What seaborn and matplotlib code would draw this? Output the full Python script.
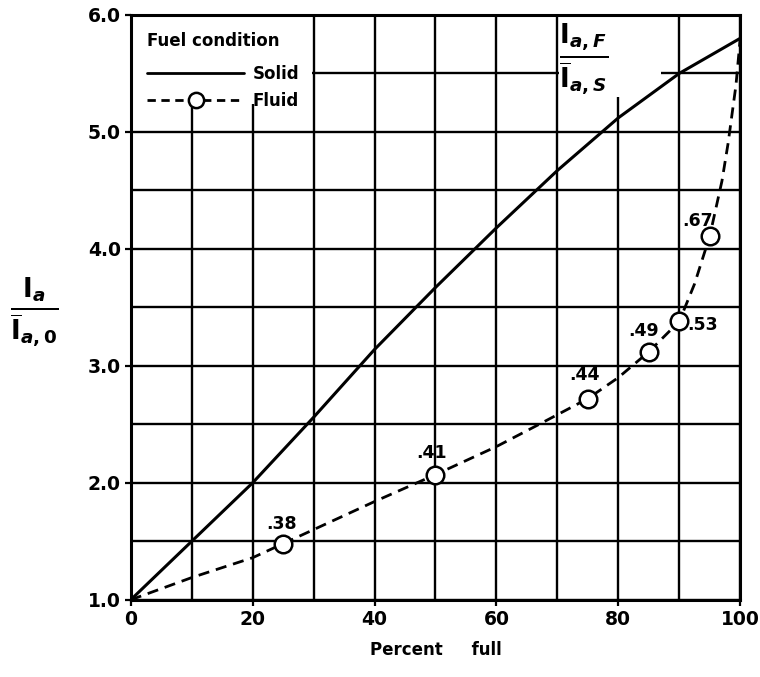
import matplotlib
matplotlib.use("Agg")
import matplotlib.pyplot as plt
from matplotlib.lines import Line2D
from matplotlib.patches import Rectangle
from matplotlib.legend_handler import HandlerLine2D
import numpy as np
import pandas as pd
import seaborn as sns

# solid fuel curve
SOLID_X = [0, 10, 20, 30, 40, 50, 60, 70, 80, 90, 100]
SOLID_Y = [1.0, 1.5, 2.0, 2.56, 3.14, 3.67, 4.18, 4.67, 5.12, 5.5, 5.8]

# fluid fuel curve (dashed)
FLUID_CURVE_X = [0, 10, 20, 25, 30, 40, 50, 60, 67, 75, 80, 85, 90, 92.5, 95, 97, 98, 99.3, 100]
FLUID_CURVE_Y = [1.0, 1.19, 1.36, 1.48, 1.6, 1.84, 2.07, 2.31, 2.5, 2.72, 2.9, 3.12, 3.38, 3.7, 4.11, 4.58, 4.9, 5.4, 5.8]

# measured fluid points and their ratio labels
FLUID_X = [25, 50, 75, 85, 90, 95]
FLUID_Y = [1.48, 2.07, 2.72, 3.12, 3.38, 4.11]
RATIO_LABELS = [".38", ".41", ".44", ".49", ".53", ".67"]
LABEL_OFFSETS = [(-2, 20), (-4, 22), (-3, 24), (-5, 21), (23, -4), (-12, 15)]

X_TICKS = [0, 20, 40, 60, 80, 100]
Y_TICKS = [1.0, 2.0, 3.0, 4.0, 5.0, 6.0]


class LeftMarkerHandler(HandlerLine2D):
    # put the single legend marker near the left end of the handle
    def get_xdata(self, legend, xdescent, ydescent, width, height, fontsize):
        xdata, _ = super().get_xdata(legend, xdescent, ydescent, width, height, fontsize)
        return xdata, np.array([-xdescent + 0.22 * width])


sns.set_theme(style="white")
plt.rcParams["font.family"] = ["DejaVu Sans"]
plt.rcParams["font.weight"] = "bold"
plt.rcParams["mathtext.fontset"] = "dejavusans"
plt.rcParams["text.color"] = "black"
plt.rcParams["xtick.color"] = "black"
plt.rcParams["ytick.color"] = "black"
plt.rcParams["axes.labelcolor"] = "black"

fig = plt.figure(figsize=(7.6, 6.77), dpi=100)
ax = fig.add_axes([0.172, 0.114, 0.802, 0.864])

solid = pd.DataFrame({"x": SOLID_X, "y": SOLID_Y})
fluid = pd.DataFrame({"x": FLUID_CURVE_X, "y": FLUID_CURVE_Y})
pts = pd.DataFrame({"x": FLUID_X, "y": FLUID_Y})

sns.lineplot(data=solid, x="x", y="y", ax=ax, color="black", linewidth=2.2, zorder=3)
sns.lineplot(data=fluid, x="x", y="y", ax=ax, color="black", linewidth=2.0,
             linestyle=(0, (4, 2.5)), zorder=3)
sns.scatterplot(data=pts, x="x", y="y", ax=ax, s=160, facecolor="white",
                edgecolor="black", linewidth=1.8, zorder=4)

for x, y, lab, off in zip(FLUID_X, FLUID_Y, RATIO_LABELS, LABEL_OFFSETS):
    ax.annotate(lab, (x, y), xytext=off, textcoords="offset pixels",
                ha="center", va="center", fontsize=12.5, fontweight="bold", zorder=5)

ax.set_xlim(0, 100)
ax.set_ylim(1.0, 6.0)
ax.set_xticks(X_TICKS)
ax.set_xticklabels([str(v) for v in X_TICKS])
ax.set_yticks(Y_TICKS)
ax.set_yticklabels([f"{v:.1f}" for v in Y_TICKS])
ax.set_xticks(np.arange(0, 101, 10), minor=True)
ax.set_yticks(np.arange(1.0, 6.01, 0.5), minor=True)
ax.set_axisbelow(True)
ax.grid(which="both", color="black", linewidth=1.7)
ax.tick_params(axis="both", which="major", labelsize=13.5, length=4, width=1.6,
               color="black", direction="out", pad=3, bottom=True, left=True)
ax.tick_params(axis="both", which="minor", length=0)
for lab in ax.get_xticklabels() + ax.get_yticklabels():
    lab.set_fontweight("bold")
for sp in ax.spines.values():
    sp.set_color("black")
    sp.set_linewidth(2.2)

ax.set_xlabel("Percent     full", fontsize=12, fontweight="bold", labelpad=9)
ax.set_ylabel("")

# white patches where the legend and the ratio label sit over the grid
ax.add_patch(Rectangle((0, 5.24), 29.7, 0.76, facecolor="white", edgecolor="none", zorder=1))
ax.add_patch(Rectangle((70.3, 5.3), 16.7, 0.7, facecolor="white", edgecolor="none", zorder=1))

ax.text(0.703, 0.988, r"$\frac{\mathrm{I}_{a,F}}{\overline{\mathrm{I}}_{a,S}}$",
        transform=ax.transAxes, ha="left", va="top", fontsize=27, zorder=5)
ax.text(-0.198, 0.49, r"$\frac{\mathrm{I}_{a}}{\overline{\mathrm{I}}_{a,0}}$",
        transform=ax.transAxes, ha="left", va="center", fontsize=27)

h_solid = Line2D([], [], color="black", linewidth=2.0)
h_fluid = Line2D([], [], color="black", linewidth=2.0, linestyle=(0, (3, 2)),
                 marker="o", markersize=11, markerfacecolor="white",
                 markeredgecolor="black", markeredgewidth=1.8)
leg = ax.legend([h_solid, h_fluid], ["Solid", "Fluid"], title="Fuel condition",
                loc="upper left", bbox_to_anchor=(0.0, 1.0), frameon=False,
                handlelength=5.8, handletextpad=0.5, numpoints=1,
                labelspacing=0.55, borderaxespad=0.6, fontsize=12,
                title_fontproperties={"weight": "bold", "size": 12},
                handler_map={h_fluid: LeftMarkerHandler()})
leg._legend_box.align = "left"
leg._legend_box.sep = 11
for t in leg.get_texts():
    t.set_fontweight("bold")
leg.get_title().set_color("black")
leg.set_zorder(6)

fig.savefig("out.png", dpi=100)
